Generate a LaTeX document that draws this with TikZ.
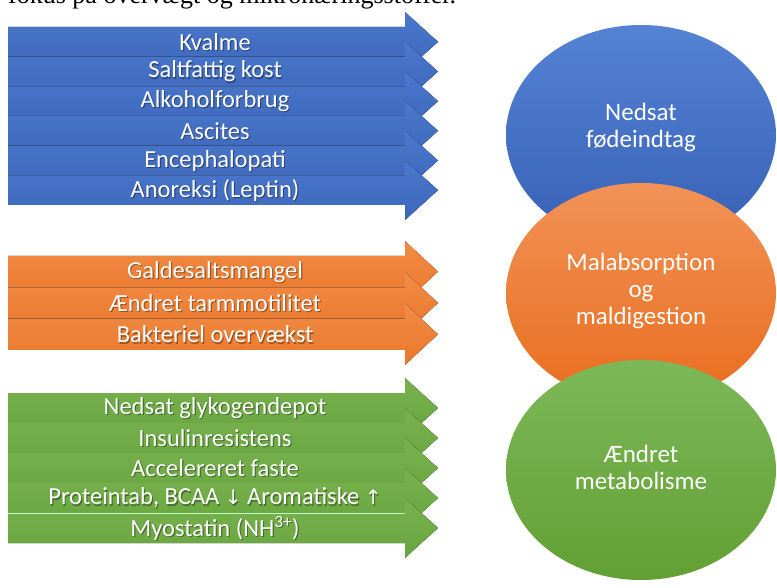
\documentclass[tikz,border=0pt]{standalone}
\usepackage{fontspec}
\setmainfont{Carlito}
\newfontfamily\seriffont{Liberation Serif}
\newfontfamily\symfont{DejaVu Sans}
\usetikzlibrary{shapes.geometric}
\definecolor{bluetop}{HTML}{4A79CD}
\definecolor{bluebot}{HTML}{3D66B9}
\definecolor{orgtop}{HTML}{F28C45}
\definecolor{orgbot}{HTML}{E9772C}
\definecolor{grntop}{HTML}{78B24F}
\definecolor{grnbot}{HTML}{68A53E}
\definecolor{eblutop}{HTML}{5583D4}
\definecolor{eblubot}{HTML}{3660B5}
\definecolor{eorgtop}{HTML}{F29257}
\definecolor{eorgbot}{HTML}{E86D1E}
\definecolor{egrntop}{HTML}{7DB857}
\definecolor{egrnbot}{HTML}{62A034}
\tikzset{
  bandtext/.style={text=white,font=\fontsize{24.5}{28}\selectfont,inner sep=0pt},
  bandshadow/.style={text=black,opacity=0.35,font=\fontsize{24.5}{28}\selectfont,inner sep=0pt},
  blob/.style={ellipse,minimum width=270pt,minimum height=220pt,inner sep=0pt},
  blobtext/.style={align=center,text=white,inner sep=0pt,font=\fontsize{25}{27}\selectfont}
}
\newcommand\myband[6]{%
  \pgfmathsetmacro\bt{#2}%
  \pgfmathsetmacro\bb{#2+#3}%
  \pgfmathsetmacro\bm{#2+#3/2}%
  \fill[top color=#4,bottom color=#5] (8,\bt) -- (405,\bt) -- (405,\bt-15) -- (438,\bm)
     -- (405,\bb+15) -- (405,\bb) -- (8,\bb) -- cycle;
  \node[bandshadow] at (216.2,\bm+1.4) {#6};
  \node[bandtext] (#1) at (215,\bm) {#6};
}
\begin{document}
\begin{tikzpicture}[x=1pt,y=-1pt]
\useasboundingbox (0,0) rectangle (777,588);
\clip (0,0) rectangle (777,588);
% cut-off text line at top
\node[anchor=base west,inner sep=0pt,font=\seriffont\fontsize{26}{30}\selectfont] (toptext) at (8,3.5) {fokus på overvægt og mikronæringsstoffer.};
% blue group
\myband{b1}{27}{29.67}{bluetop}{bluebot}{Kvalme}
\myband{b2}{56.67}{29.67}{bluetop}{bluebot}{Saltfattig kost}
\myband{b3}{86.33}{29.67}{bluetop}{bluebot}{Alkoholforbrug}
\myband{b4}{116}{29.67}{bluetop}{bluebot}{Ascites}
\myband{b5}{145.67}{29.67}{bluetop}{bluebot}{Encephalopati}
\myband{b6}{175.33}{29.67}{bluetop}{bluebot}{Anoreksi (Leptin)}
% orange group
\myband{o1}{256}{31.3}{orgtop}{orgbot}{Galdesaltsmangel}
\myband{o2}{287.3}{31.3}{orgtop}{orgbot}{Ændret tarmmotilitet}
\myband{o3}{318.6}{31.3}{orgtop}{orgbot}{Bakteriel overvækst}
% green group
\myband{g1}{393}{30}{grntop}{grnbot}{Nedsat glykogendepot}
\myband{g2}{423}{30}{grntop}{grnbot}{Insulinresistens}
\myband{g3}{453}{30}{grntop}{grnbot}{Accelereret faste}
\myband{g4}{483}{30}{grntop}{grnbot}{Proteintab, BCAA {\symfont\fontsize{20}{24}\selectfont ↓} Aromatiske {\symfont\fontsize{20}{24}\selectfont ↑}}
\myband{g5}{513}{30}{grntop}{grnbot}{Myostatin (NH\textsuperscript{3+})}
\draw[white!75!green,line width=0.8pt] (8,513) -- (405,513);
% ellipses
\node[blob,top color=eblutop,bottom color=eblubot] (e1) at (641,135) {};
\node[blob,top color=eorgtop,bottom color=eorgbot] (e2) at (641,293) {};
\node[blob,top color=egrntop,bottom color=egrnbot] (e3) at (641,470) {};
\node[blobtext] (t1) at ([yshift=8pt]e1.center) {Nedsat\\fødeindtag};
\node[blobtext] (t2) at ([yshift=2pt]e2.center) {Malabsorption\\og\\maldigestion};
\node[blobtext] (t3) at ([yshift=3pt]e3.center) {Ændret\\metabolisme};
\end{tikzpicture}
\end{document}
